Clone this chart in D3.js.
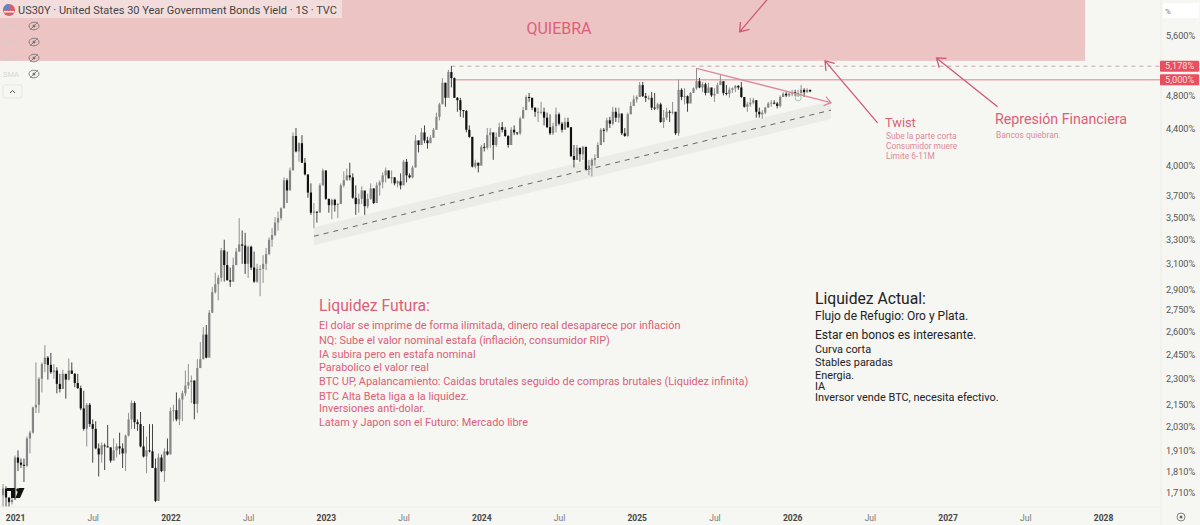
<!DOCTYPE html>
<html>
<head>
<meta charset="utf-8">
<script src="https://cdn.jsdelivr.net/npm/d3@7"></script>
<style>
  html, body { margin: 0; padding: 0; background: #f6f6f2; }
  svg { display: block; font-family: Roboto, sans-serif; }
</style>
</head>
<body>
<script>
// weekly candles, first one is the week of 2020-12-07
const firstWeek = new Date(2020, 11, 7);
const firstOpen = 1.70;
const highs = [1.75,1.74,1.69,1.69,1.885,1.91,1.87,1.87,1.98,2.01,2.14,2.40,2.31,2.40,2.51,2.44,2.46,2.39,2.37,2.33,2.355,2.305,2.425,2.40,2.335,2.33,2.26,2.23,2.16,2.16,2.07,2.06,1.945,1.95,1.945,2.04,1.925,1.97,1.945,2.00,1.945,1.99,2.105,2.175,2.17,2.07,2.11,2.035,1.98,2.045,2.045,1.87,1.895,1.89,1.92,1.97,2.135,2.15,2.22,2.19,2.23,2.35,2.39,2.32,2.29,2.42,2.53,2.63,2.645,2.75,2.92,3.03,3.01,3.23,3.30,3.20,3.07,3.15,3.23,3.49,3.38,3.36,3.25,3.25,3.20,3.10,3.09,3.17,3.23,3.32,3.40,3.50,3.55,3.59,3.88,3.87,3.98,4.36,4.41,4.25,4.33,4.08,3.90,3.82,3.63,3.55,3.82,3.97,3.95,3.67,3.67,3.67,3.63,3.82,3.94,3.97,4.03,3.92,3.80,3.72,3.79,3.70,3.72,3.82,3.77,3.83,3.85,3.93,3.98,3.95,3.95,3.88,3.85,3.92,4.06,4.07,3.92,4.00,4.33,4.27,4.41,4.44,4.31,4.33,4.41,4.59,4.71,5.02,4.96,5.13,5.18,5.03,4.78,4.77,4.62,4.62,4.44,4.31,4.06,4.03,4.22,4.24,4.41,4.41,4.36,4.36,4.47,4.48,4.42,4.33,4.42,4.44,4.36,4.54,4.66,4.80,4.83,4.77,4.65,4.65,4.72,4.65,4.59,4.57,4.47,4.65,4.59,4.48,4.53,4.53,4.42,4.22,4.22,4.15,4.21,4.20,4.06,4.08,4.12,4.25,4.41,4.41,4.53,4.54,4.66,4.65,4.65,4.54,4.41,4.59,4.72,4.80,4.80,4.97,4.97,4.83,4.80,4.84,4.83,4.71,4.71,4.62,4.65,4.62,4.72,4.60,5.00,4.89,4.89,4.80,4.84,4.90,5.15,5.02,4.97,4.96,4.96,4.89,4.89,4.96,5.06,4.97,4.93,4.90,4.90,4.93,4.93,4.97,4.77,4.72,4.77,4.77,4.74,4.65,4.62,4.66,4.72,4.74,4.74,4.72,4.80,4.84,4.84,4.84,4.87,4.87,4.87,4.93,4.89,4.89,4.87];
const lows = [1.65,1.65,1.65,1.66,1.745,1.81,1.825,1.76,1.83,1.895,1.995,2.105,2.105,2.22,2.34,2.295,2.33,2.30,2.215,2.22,2.245,2.185,2.29,2.33,2.25,2.24,2.12,2.01,1.93,2.03,1.85,1.915,1.785,1.85,1.815,1.925,1.85,1.865,1.875,1.89,1.825,1.81,1.98,2.02,2.02,2.01,1.925,1.875,1.80,1.90,1.825,1.67,1.695,1.805,1.76,1.885,1.895,2.06,2.06,2.04,2.06,2.20,2.24,2.16,2.07,2.105,2.37,2.42,2.425,2.44,2.73,2.87,2.82,2.96,2.96,2.97,2.92,2.96,3.09,3.20,3.10,3.02,2.99,3.05,2.95,2.95,2.85,2.95,3.05,3.17,3.24,3.33,3.38,3.47,3.61,3.63,3.82,3.97,4.14,4.04,4.03,3.90,3.68,3.52,3.40,3.45,3.55,3.80,3.66,3.54,3.48,3.55,3.49,3.63,3.78,3.85,3.85,3.67,3.52,3.54,3.62,3.52,3.58,3.66,3.62,3.66,3.70,3.77,3.83,3.87,3.82,3.80,3.78,3.76,3.83,3.83,3.87,3.87,3.98,4.14,4.24,4.24,4.18,4.25,4.30,4.39,4.50,4.72,4.66,4.78,4.90,4.77,4.60,4.54,4.53,4.36,4.30,3.98,3.97,3.93,4.00,4.15,4.17,4.19,4.06,4.20,4.36,4.36,4.31,4.19,4.22,4.33,4.33,4.33,4.53,4.62,4.72,4.62,4.54,4.48,4.57,4.44,4.41,4.33,4.33,4.36,4.44,4.36,4.44,4.41,4.09,3.98,4.06,4.04,4.06,3.95,3.90,3.89,4.00,4.08,4.25,4.25,4.36,4.41,4.44,4.48,4.47,4.33,4.31,4.31,4.57,4.71,4.71,4.78,4.78,4.72,4.74,4.62,4.62,4.62,4.47,4.41,4.50,4.48,4.57,4.33,4.32,4.74,4.69,4.60,4.74,4.83,4.87,4.89,4.84,4.80,4.83,4.78,4.72,4.83,4.93,4.80,4.80,4.77,4.83,4.84,4.87,4.77,4.65,4.60,4.66,4.69,4.53,4.53,4.52,4.57,4.65,4.66,4.69,4.64,4.65,4.78,4.78,4.78,4.79,4.79,4.78,4.80,4.78,4.83,4.84];
const closes = [1.73,1.69,1.67,1.68,1.875,1.85,1.84,1.835,1.97,2.00,2.135,2.15,2.30,2.39,2.43,2.385,2.34,2.35,2.27,2.24,2.33,2.295,2.35,2.33,2.275,2.245,2.13,2.02,2.15,2.045,2.02,1.92,1.89,1.935,1.93,1.925,1.86,1.91,1.93,1.92,1.895,1.985,2.07,2.16,2.055,2.045,1.93,1.88,1.91,1.905,1.825,1.675,1.875,1.81,1.905,1.89,2.115,2.12,2.07,2.18,2.215,2.26,2.28,2.29,2.155,2.365,2.42,2.58,2.43,2.73,2.88,2.94,2.99,3.21,3.09,2.97,2.96,3.09,3.20,3.26,3.25,3.10,3.24,3.07,2.96,3.06,3.06,3.10,3.18,3.30,3.34,3.45,3.49,3.58,3.85,3.75,3.95,4.32,4.15,4.24,4.03,3.91,3.73,3.54,3.55,3.54,3.80,3.95,3.67,3.61,3.66,3.61,3.62,3.80,3.85,3.90,3.88,3.68,3.62,3.67,3.75,3.60,3.67,3.77,3.63,3.80,3.83,3.90,3.95,3.87,3.88,3.82,3.84,3.80,4.04,3.90,3.88,3.98,4.27,4.22,4.36,4.27,4.24,4.30,4.39,4.54,4.69,4.96,4.77,5.10,5.02,4.77,4.74,4.62,4.61,4.39,4.31,3.99,4.03,4.00,4.20,4.19,4.33,4.36,4.22,4.31,4.42,4.39,4.32,4.22,4.39,4.36,4.35,4.52,4.62,4.78,4.77,4.65,4.60,4.60,4.60,4.53,4.42,4.35,4.43,4.57,4.46,4.39,4.48,4.42,4.10,4.06,4.19,4.12,4.20,3.96,4.00,4.06,4.08,4.22,4.39,4.38,4.50,4.46,4.60,4.53,4.58,4.35,4.32,4.57,4.67,4.75,4.78,4.93,4.79,4.77,4.77,4.65,4.64,4.69,4.48,4.53,4.60,4.59,4.60,4.35,4.87,4.78,4.79,4.70,4.83,4.89,4.98,4.90,4.94,4.83,4.90,4.80,4.82,4.93,4.98,4.83,4.82,4.87,4.89,4.92,4.90,4.78,4.66,4.69,4.71,4.74,4.60,4.57,4.59,4.65,4.70,4.71,4.70,4.67,4.78,4.82,4.80,4.82,4.84,4.82,4.83,4.87,4.84,4.87,4.85];

const priceTicks = [5.6,4.8,4.4,4.0,3.7,3.5,3.3,3.1,2.9,2.75,2.6,2.45,2.3,2.15,2.03,1.91,1.81,1.71];
const timeTicks = ['2021','Jul','2022','Jul','2023','Jul','2024','Jul','2025','Jul','2026','Jul','2027','Jul','2028'];
const timeTickDates = ['2021-01-04','2021-07-05','2022-01-03','2022-07-04','2023-01-02','2023-07-03','2024-01-01','2024-07-01','2024-12-30','2025-06-30','2025-12-29','2026-06-29','2026-12-28','2027-06-28','2027-12-27'];

const quiebraFloor = 5.25, quiebraCeil = 6.6;
const quiebraEndWeek = 362;
const levels = [5.178, 5.0];
// [week index, yield] pairs, week 0 is firstWeek
const downTrend = [[232, 5.15], [277, 4.71]];
const support = [[104, 3.33], [277, 4.62]];
const bandRatio = 1.0236;
const twistArrow = [[292.6, 4.47], [275, 5.25]];
const represionArrow = [[332.8, 4.66], [312.4, 5.29]];
const quiebraArrow = [[255.8, 6.16], [246.5, 5.66]];
const markerPoint = [266, 4.77];

const futuraLines = ['El dolar se imprime de forma ilimitada, dinero real desaparece por inflación','NQ: Sube el valor nominal estafa (inflación, consumidor RIP)','IA subira pero en estafa nominal','Parabolico el valor real','BTC UP, Apalancamiento: Caidas brutales seguido de compras brutales (Liquidez infinita)','BTC Alta Beta liga a la liquidez.','Inversiones anti-dolar.','Latam y Japon son el Futuro: Mercado libre'];
const futuraY = [325,340,354,367,381,396,408,422];
const actualLines = ['Flujo de Refugio: Oro y Plata.','Estar en bonos es interesante.','Curva corta','Stables paradas','Energia.','IA','Inversor vende BTC, necesita efectivo.'];
const actualY = [316,335,349,362,375,386,397];
const actualSize = [12,12,10.9,10.9,10.9,10.9,10.9];
const twistLines = ['Sube la parte corta','Consumidor muere','Limite 6-11M'];

const width = 1200, height = 525;
const axisX = 1161, axisY = 507;
const pink = '#dc6078', pinkSoft = '#e08a9b';

const weekDate = i => d3.timeDay.offset(firstWeek, 7 * i);
const candles = closes.map((c, i) => ({
  date: weekDate(i),
  open: i ? closes[i - 1] : firstOpen,
  close: c,
  high: highs[i],
  low: lows[i]
}));

const x = d3.scaleTime()
  .domain([new Date(2021, 0, 4), new Date(2028, 0, 3)])
  .range([15, 1106]);
const y = d3.scaleLog()
  .domain([1.71, 5.6])
  .range([493, 36]);
const px = p => [x(weekDate(p[0])), y(p[1])];

let svg = d3.select('body').append('svg')
  .attr('width', width)
  .attr('height', height);
svg.append('rect').attr('width', width).attr('height', height).attr('fill', '#f6f6f2');

// QUIEBRA zone
svg.append('rect')
  .attr('x', 0).attr('y', y(quiebraCeil))
  .attr('width', x(weekDate(quiebraEndWeek)))
  .attr('height', y(quiebraFloor) - y(quiebraCeil))
  .attr('fill', '#edc4c4');
svg.append('rect').attr('x', 0).attr('y', 0).attr('width', 342).attr('height', 18).attr('fill', '#f3dddc');
svg.append('text').text('QUIEBRA')
  .attr('x', 559).attr('y', 34).attr('text-anchor', 'middle')
  .attr('font-size', 16).attr('fill', pink);

// support band and dashed line
const sup = support.map(px);
svg.append('polygon')
  .attr('points', [
    px([support[0][0], support[0][1] * bandRatio]),
    px([support[1][0], support[1][1] * bandRatio]),
    px([support[1][0], support[1][1] / bandRatio]),
    px([support[0][0], support[0][1] / bandRatio])
  ].join(' '))
  .attr('fill', '#ebebe8');
svg.append('line')
  .attr('x1', sup[0][0]).attr('y1', sup[0][1]).attr('x2', sup[1][0]).attr('y2', sup[1][1])
  .attr('stroke', '#666').attr('stroke-width', 1).attr('stroke-dasharray', '5 5');

// level lines
svg.append('line')
  .attr('x1', x(weekDate(150))).attr('x2', axisX).attr('y1', y(levels[0])).attr('y2', y(levels[0]))
  .attr('stroke', '#c9a3a6').attr('stroke-width', 1).attr('stroke-dasharray', '4 4');
svg.append('line')
  .attr('x1', x(weekDate(151))).attr('x2', axisX).attr('y1', y(levels[1])).attr('y2', y(levels[1]))
  .attr('stroke', '#e8a6ae').attr('stroke-width', 1.5);

// candles
const isUp = d => d.close >= d.open;
let candleG = svg.append('g').style('filter', 'blur(0.5px)');
candleG.selectAll('line').data(candles).join('line')
  .attr('x1', d => x(d.date)).attr('x2', d => x(d.date))
  .attr('y1', d => y(d.high)).attr('y2', d => y(d.low))
  .attr('stroke', d => isUp(d) ? '#8f8f8f' : '#444').attr('stroke-width', 1);
candleG.selectAll('rect').data(candles).join('rect')
  .attr('x', d => x(d.date) - 1.1)
  .attr('width', 2.2)
  .attr('y', d => y(Math.max(d.open, d.close)))
  .attr('height', d => Math.max(1, Math.abs(y(d.open) - y(d.close))))
  .attr('fill', d => isUp(d) ? '#858585' : '#111');

// arrows
function arrow(p0, p1, color, sw, barbLen) {
  const a = px(p0), b = px(p1);
  const ang = Math.atan2(a[1] - b[1], a[0] - b[0]);
  const barb = t => [b[0] + barbLen * Math.cos(ang + t), b[1] + barbLen * Math.sin(ang + t)];
  svg.append('path')
    .attr('d', d3.line()([a, b]) + d3.line()([barb(0.62), b, barb(-0.62)]))
    .attr('fill', 'none').attr('stroke', color).attr('stroke-width', sw);
}
arrow(downTrend[0], downTrend[1], '#dd8a99', 1.3, 8);
arrow(twistArrow[0], twistArrow[1], '#cf5a72', 1.3, 10);
arrow(represionArrow[0], represionArrow[1], '#cf5a72', 1.3, 10);
arrow(quiebraArrow[0], quiebraArrow[1], '#cf5a72', 1.3, 10);

// small green marker on the last candles
svg.append('circle').attr('cx', px(markerPoint)[0]).attr('cy', px(markerPoint)[1]).attr('r', 3)
  .attr('fill', 'none').attr('stroke', '#a3c9a0').attr('stroke-width', 1);

// axes
let yAxis = svg.append('g').attr('transform', `translate(${axisX},0)`)
  .call(d3.axisRight(y).tickValues(priceTicks).tickSize(0).tickPadding(5)
    .tickFormat(d => d3.format('.3f')(d).replace('.', ',') + '%'));
yAxis.select('.domain').remove();
yAxis.selectAll('text').attr('font-size', 9.2).attr('fill', '#555').attr('font-family', 'Roboto, sans-serif');

let xAxis = svg.append('g').attr('transform', `translate(0,${axisY})`)
  .call(d3.axisBottom(x).tickValues(timeTickDates.map(d => d3.timeParse('%Y-%m-%d')(d))).tickSize(0).tickPadding(8)
    .tickFormat((d, i) => timeTicks[i]));
xAxis.select('.domain').remove();
xAxis.selectAll('text')
  .attr('font-size', 8.5).attr('font-family', 'Roboto, sans-serif')
  .attr('font-weight', (d, i) => i % 2 ? 400 : 700)
  .attr('fill', (d, i) => i % 2 ? '#777' : '#444');

svg.append('line').attr('x1', 0).attr('x2', axisX).attr('y1', axisY).attr('y2', axisY).attr('stroke', '#ecece8');
svg.append('line').attr('x1', axisX).attr('x2', axisX).attr('y1', 0).attr('y2', height).attr('stroke', '#ecece8');

// price axis header and labels
svg.append('rect').attr('x', 1163).attr('y', 3).attr('width', 36).attr('height', 15).attr('fill', '#fff');
svg.append('text').text('%').attr('x', 1165).attr('y', 14).attr('font-size', 8).attr('fill', '#777');
levels.forEach(v => {
  svg.append('rect').attr('x', 1160).attr('y', y(v) - 5.5).attr('width', 39).attr('height', 11).attr('rx', 1).attr('fill', '#e8505f');
  svg.append('text').text(d3.format('.3f')(v).replace('.', ',') + '%')
    .attr('x', 1165).attr('y', y(v) + 3.2).attr('font-size', 9.2).attr('fill', '#fbdcdc');
});
svg.append('circle').attr('cx', 1181).attr('cy', 517).attr('r', 4).attr('fill', 'none').attr('stroke', '#666').attr('stroke-width', 0.8);
svg.append('circle').attr('cx', 1181).attr('cy', 517).attr('r', 1.5).attr('fill', '#666');

// header legend
svg.append('circle').attr('cx', 9).attr('cy', 10).attr('r', 6).attr('fill', '#d8606a');
svg.append('path').attr('d', 'M3.5 8A6 6 0 0 1 9 4V10H3.5Z').attr('fill', '#5f86c8');
svg.append('rect').attr('x', 4).attr('y', 11).attr('width', 10).attr('height', 1.5).attr('fill', '#f6efee');
svg.append('text').text('US30Y · United States 30 Year Government Bonds Yield · 1S · TVC')
  .attr('x', 18).attr('y', 14).attr('font-size', 11).attr('fill', '#444');
[26, 42, 58, 74].forEach(cy => {
  svg.append('text').text('SMA').attr('x', 3).attr('y', cy + 2.5).attr('font-size', 7.5).attr('fill', cy < 60 ? '#dcc9c9' : '#d6d6d4');
  svg.append('ellipse').attr('cx', 34).attr('cy', cy).attr('rx', 5).attr('ry', 3.8)
    .attr('fill', 'none').attr('stroke', '#777').attr('stroke-width', 0.9);
  svg.append('circle').attr('cx', 34).attr('cy', cy).attr('r', 1.5).attr('fill', '#777');
  svg.append('line').attr('x1', 30).attr('x2', 38).attr('y1', cy + 4).attr('y2', cy - 4).attr('stroke', '#777').attr('stroke-width', 0.8);
});
svg.append('rect').attr('x', 3).attr('y', 85).attr('width', 19).attr('height', 13).attr('rx', 2)
  .attr('fill', 'none').attr('stroke', '#e6e6e2');
svg.append('path').attr('d', 'M10 93L12.5 90.5L15 93').attr('fill', 'none').attr('stroke', '#555');

// TradingView mark
svg.append('path').attr('d', 'M7 488H15V498H11V491H7Z M24.5 488H19L15.5 498H20Z').attr('fill', '#111');
svg.append('circle').attr('cx', 18).attr('cy', 490).attr('r', 1.8).attr('fill', '#111');

// notes
function note(str, tx, ty, size, fill) {
  svg.append('text').text(str).attr('x', tx).attr('y', ty)
    .attr('dominant-baseline', 'central').attr('font-size', size).attr('fill', fill);
}
note('Twist', 885, 122, 12.8, pink);
twistLines.forEach((t, i) => note(t, 886, 136 + i * 10, 8.4, pinkSoft));
note('Represión Financiera', 995, 119, 14.2, pink);
note('Bancos quiebran.', 996, 135, 8.4, pinkSoft);

note('Liquidez Futura:', 319, 305, 15.7, pink);
futuraLines.forEach((t, i) => note(t, 319, futuraY[i], 10.9, pink));
note('Liquidez Actual:', 815, 298, 15.7, '#222');
actualLines.forEach((t, i) => note(t, 815, actualY[i], actualSize[i], '#222'));
</script>
</body>
</html>
